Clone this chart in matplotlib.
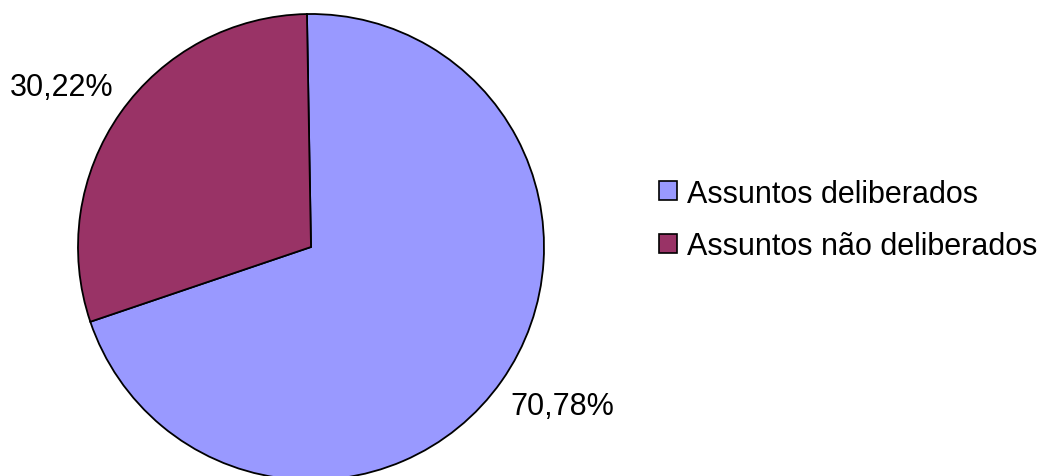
import matplotlib
matplotlib.use("Agg")
import matplotlib.pyplot as plt
from matplotlib.patches import Patch
import numpy as np

categories = ["Assuntos deliberados", "Assuntos não deliberados"]
values = [70.78, 30.22]
value_labels = ["70,78%", "30,22%"]
colors = ["#9999FF", "#993366"]

plt.rcParams['font.family'] = ['Liberation Sans', 'DejaVu Sans']

W, H = 1045, 477
fig = plt.figure(figsize=(W / 100, H / 100), dpi=100)
cx, cy, r = 311, 248, 233
ax = fig.add_axes([(cx - r) / W, (H - cy - r) / H, 2 * r / W, 2 * r / H])

wedges, texts = ax.pie(values, colors=colors, startangle=91, counterclock=False,
                       labels=value_labels, labeldistance=1.28,
                       wedgeprops=dict(edgecolor="black", linewidth=1.3),
                       textprops=dict(fontsize=22, color="black"))
ax.set_xlim(-1, 1)
ax.set_ylim(-1, 1)
ax.set_aspect("equal")

# label placement outside the pie, as in the reference
angles = [-32.35, 147.2]
dists = [1.275, 1.271]
for t, a, d in zip(texts, angles, dists):
    t.set_ha("center")
    t.set_va("center")
    t.set_position((d * np.cos(np.deg2rad(a)), d * np.sin(np.deg2rad(a))))

handles = [Patch(facecolor=c, edgecolor="black", linewidth=1.2) for c in colors]
fig.legend(handles, categories, loc="center left", bbox_to_anchor=(659 / W, 1 - 221 / H),
           frameon=False, fontsize=22, handlelength=0.59, handleheight=0.59,
           handletextpad=0.33, labelspacing=0.75, borderaxespad=0, borderpad=0)

fig.savefig("out.png", dpi=100)
